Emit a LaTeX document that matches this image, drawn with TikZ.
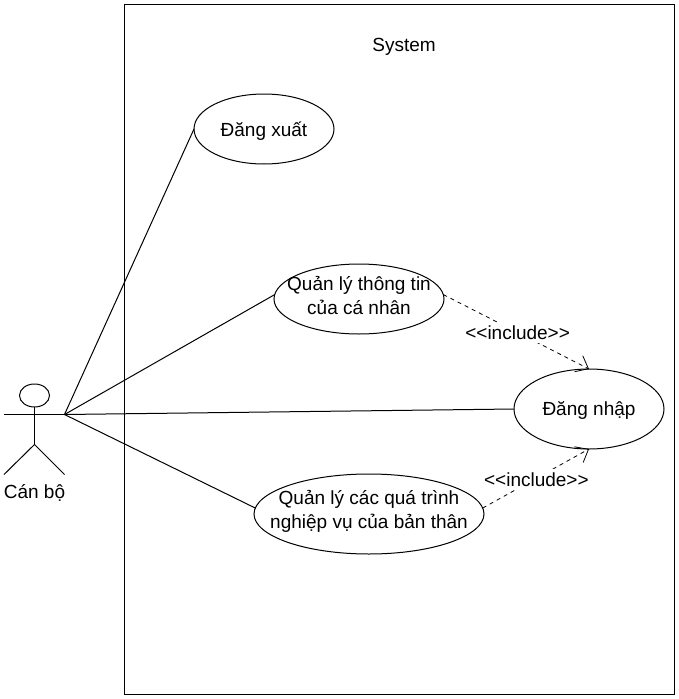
\documentclass[tikz,border=0pt]{standalone}
\usepackage{fontspec}
\setmainfont{Liberation Sans}
\usetikzlibrary{shapes.geometric,arrows.meta}
\tikzset{
  usecase/.style={draw=black,line width=1pt,ellipse,fill=white,inner sep=0pt,outer sep=0pt},
  casetext/.style={font=\fontsize{19}{23.5}\selectfont,inner sep=0pt,align=center},
  lbl/.style={font=\fontsize{19}{23}\selectfont,inner sep=1pt,align=center},
  edgelbl/.style={lbl,fill=white,inner ysep=3pt},
  assoc/.style={draw=black,line width=1pt},
  incl/.style={draw=black,line width=0.8pt,dash pattern=on 4pt off 4pt,-{Straight Barb[length=11pt,width=18pt,line width=0.8pt]}},
  actorline/.style={draw=black,line width=1pt}
}
\begin{document}
\begin{tikzpicture}[x=1pt,y=-1pt]
\useasboundingbox (0,0) rectangle (679,699);
\fill[white] (0,0) rectangle (679,699);
\node[draw=black,line width=1pt,minimum width=550pt,minimum height=690pt,inner sep=0pt,outer sep=0pt,anchor=north west] (system) at (124.5,4.5) {};
\node[lbl] (systemlabel) at (404,47) {System};

\node[usecase,minimum width=140pt,minimum height=70pt] (logout) at (264,129) {};
\node[casetext] (logouttext) at (264,131) {Đăng xuất};
\node[usecase,minimum width=170pt,minimum height=70pt] (info) at (359,299) {};
\node[casetext] (infotext) at (359,295.5) {Quản lý thông tin\\của cá nhân};
\node[usecase,minimum width=150pt,minimum height=80pt] (login) at (589,409) {};
\node[casetext] (logintext) at (589,410.5) {Đăng nhập};
\node[usecase,minimum width=230pt,minimum height=80pt] (proc) at (369,514) {};
\node[casetext] (proctext) at (369,511.5) {Quản lý các quá trình\\nghiệp vụ của bản thân};

% actor
\node[draw=black,line width=1pt,ellipse,minimum width=30pt,minimum height=23pt,inner sep=0pt,outer sep=0pt] (head) at (34.5,395.5) {};
\coordinate (hip) at (34.5,444.5);
\coordinate (handL) at (4,414.5);
\coordinate (handR) at (64.5,414.5);
\coordinate (footL) at (4,474.5);
\coordinate (footR) at (64.5,474.5);
\draw[actorline] (head.south) -- (hip);
\draw[actorline] (handL) -- (handR);
\draw[actorline] (footL) -- (hip) -- (footR);
\node[lbl] (actorlabel) at (34.5,493) {Cán bộ};

\draw[assoc] (handR) -- (logout.west);
\draw[assoc] (handR) -- (info.177);
\draw[assoc] (handR) -- (login.west);
\draw[assoc] (handR) -- (proc.177);

\draw[incl] (info.3) -- (login.north) node[pos=0.51,edgelbl] (l1) {<{}<include>{}>};
\draw[incl] (proc.3) -- (login.south) node[pos=0.505,edgelbl,yshift=-1pt] (l2) {<{}<include>{}>};
\end{tikzpicture}
\end{document}
